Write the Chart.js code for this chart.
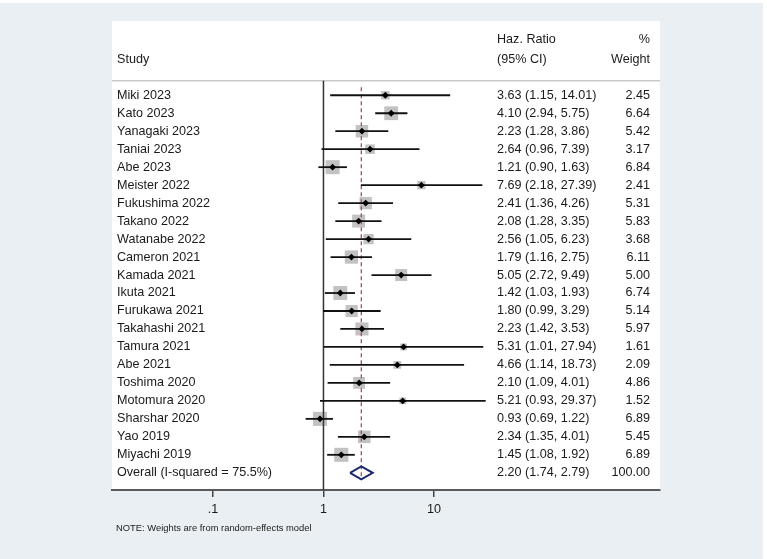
<!DOCTYPE html>
<html lang="en">
  <head>
    <meta charset="UTF-8" />
    <title>Forest plot</title>
    <style>
      body { margin: 0; background: #ffffff; }
      #wrap { width: 767px; height: 559px; }
    </style>
  </head>
  <body>
    <div id="wrap">
      <canvas id="myChart" width="767" height="559"></canvas>
    </div>
    <script src="https://cdn.jsdelivr.net/npm/chart.js"></script>
    <script>
        const studies = ["Miki 2023", "Kato 2023", "Yanagaki 2023", "Taniai 2023", "Abe 2023", "Meister 2022",
            "Fukushima 2022", "Takano 2022", "Watanabe 2022", "Cameron 2021", "Kamada 2021", "Ikuta 2021",
            "Furukawa 2021", "Takahashi 2021", "Tamura 2021", "Abe 2021", "Toshima 2020", "Motomura 2020",
            "Sharshar 2020", "Yao 2019", "Miyachi 2019"];
        const hr = [3.63, 4.10, 2.23, 2.64, 1.21, 7.69, 2.41, 2.08, 2.56, 1.79, 5.05, 1.42, 1.80, 2.23, 5.31, 4.66, 2.10, 5.21, 0.93, 2.34, 1.45];
        const lower = [1.15, 2.94, 1.28, 0.96, 0.90, 2.18, 1.36, 1.28, 1.05, 1.16, 2.72, 1.03, 0.99, 1.42, 1.01, 1.14, 1.09, 0.93, 0.69, 1.35, 1.08];
        const upper = [14.01, 5.75, 3.86, 7.39, 1.63, 27.39, 4.26, 3.35, 6.23, 2.75, 9.49, 1.93, 3.29, 3.53, 27.94, 18.73, 4.01, 29.37, 1.22, 4.01, 1.92];
        const weights = [2.45, 6.64, 5.42, 3.17, 6.84, 2.41, 5.31, 5.83, 3.68, 6.11, 5.00, 6.74, 5.14, 5.97, 1.61, 2.09, 4.86, 1.52, 6.89, 5.45, 6.89];

        const overallLabel = "Overall (I-squared = 75.5%)";
        const overall = { hr: 2.20, lower: 1.74, upper: 2.79, weight: 100.00 };

        const tickValues = [0.1, 1, 10];
        const tickLabels = [".1", "1", "10"];

        const FONT = '"Liberation Sans", Arial, Helvetica, sans-serif';
        const overallRow = studies.length;

        // squares: area proportional to weight
        const squareRadius = weights.map(w => 14 * Math.sqrt(w / 6.84) / Math.SQRT2);

        const datasets = [];

        datasets.push({
            label: "weights",
            data: hr.map((v, i) => ({ x: v, y: i })),
            pointStyle: "rect",
            pointRadius: squareRadius,
            backgroundColor: "#c2c2c2",
            borderWidth: 0,
            order: 6
        });

        datasets.push({
            label: "null line",
            data: [{ x: 1, y: -0.8 }, { x: 1, y: 21.95 }],
            showLine: true,
            borderColor: "#333333",
            borderWidth: 1.5,
            pointRadius: 0,
            order: 5
        });

        datasets.push({
            label: "overall line",
            data: [{ x: overall.hr, y: -0.45 }, { x: overall.hr, y: overallRow + 0.4 }],
            showLine: true,
            borderColor: "#a3525e",
            borderWidth: 1.3,
            borderDash: [4, 3],
            pointRadius: 0,
            order: 4
        });

        studies.forEach((s, i) => {
            datasets.push({
                label: s,
                data: [{ x: lower[i], y: i }, { x: upper[i], y: i }],
                showLine: true,
                borderColor: "#111111",
                borderWidth: 1.8,
                pointRadius: 0,
                order: 3
            });
        });

        datasets.push({
            label: "estimates",
            data: hr.map((v, i) => ({ x: v, y: i })),
            pointStyle: "rectRot",
            pointRadius: 3.4,
            backgroundColor: "#000000",
            borderWidth: 0,
            order: 2
        });

        datasets.push({
            label: "overall",
            data: [
                { x: overall.lower, y: overallRow },
                { x: overall.hr, y: overallRow - 0.36 },
                { x: overall.upper, y: overallRow },
                { x: overall.hr, y: overallRow + 0.36 },
                { x: overall.lower, y: overallRow }
            ],
            showLine: true,
            borderColor: "#1b2a6e",
            borderWidth: 2,
            pointRadius: 0,
            order: 1
        });

        const panel = {
            id: "panel",
            beforeDraw(chart) {
                const { ctx, chartArea: { left, top, right, bottom } } = chart;
                ctx.save();
                ctx.fillStyle = "#ffffff";
                ctx.fillRect(0, 0, chart.width, chart.height);
                ctx.fillStyle = "#e9eff2";
                ctx.fillRect(0, 3, 763, chart.height - 3);
                ctx.fillStyle = "#ffffff";
                ctx.fillRect(left, top, right - left, bottom - top);
                // header rule
                const yRule = chart.scales.y.getPixelForValue(-0.8);
                ctx.strokeStyle = "#c9c9c9";
                ctx.lineWidth = 1.5;
                ctx.beginPath();
                ctx.moveTo(left, yRule);
                ctx.lineTo(right, yRule);
                ctx.stroke();
                ctx.restore();
            }
        };

        const fmt = v => v.toFixed(2);

        const texts = {
            id: "texts",
            afterDraw(chart) {
                const { ctx, chartArea: { left, right } } = chart;
                const y = chart.scales.y;
                const xStudy = left + 5, xCi = left + 385, xW = right - 10;
                ctx.save();
                ctx.fillStyle = "#1a1a1a";
                ctx.font = "12.6px " + FONT;
                ctx.textBaseline = "middle";

                ctx.textAlign = "left";
                ctx.fillText("Study", xStudy, y.getPixelForValue(-2));
                ctx.fillText("Haz. Ratio", xCi, y.getPixelForValue(-3.1));
                ctx.fillText("(95% CI)", xCi, y.getPixelForValue(-2));
                ctx.textAlign = "right";
                ctx.fillText("%", xW, y.getPixelForValue(-3.1));
                ctx.fillText("Weight", xW, y.getPixelForValue(-2));

                studies.forEach((s, i) => {
                    const py = y.getPixelForValue(i);
                    ctx.textAlign = "left";
                    ctx.fillText(s, xStudy, py);
                    ctx.fillText(fmt(hr[i]) + " (" + fmt(lower[i]) + ", " + fmt(upper[i]) + ")", xCi, py);
                    ctx.textAlign = "right";
                    ctx.fillText(fmt(weights[i]), xW, py);
                });

                const po = y.getPixelForValue(overallRow);
                ctx.textAlign = "left";
                ctx.fillText(overallLabel, xStudy, po);
                ctx.fillText(fmt(overall.hr) + " (" + fmt(overall.lower) + ", " + fmt(overall.upper) + ")", xCi, po);
                ctx.textAlign = "right";
                ctx.fillText(fmt(overall.weight), xW, po);

                ctx.textAlign = "left";
                ctx.font = "9.4px " + FONT;
                ctx.fillText("NOTE: Weights are from random-effects model", left + 4, 528);
                ctx.restore();
            }
        };

        const config = {
            type: "scatter",
            data: { datasets: datasets },
            plugins: [panel, texts],
            options: {
                responsive: false,
                animation: false,
                events: [],
                layout: {
                    padding: { left: 112, right: 107, top: 21, bottom: 37 }
                },
                plugins: {
                    legend: { display: false },
                    tooltip: { enabled: false }
                },
                scales: {
                    x: {
                        type: "logarithmic",
                        min: 0.0122,
                        max: 1110,
                        afterBuildTicks(scale) {
                            scale.ticks = tickValues.map(v => ({ value: v }));
                        },
                        grid: {
                            drawOnChartArea: false,
                            drawTicks: true,
                            tickLength: 7,
                            color: "#444444",
                            lineWidth: 1.5
                        },
                        border: { display: true, color: "#5a5a5a", width: 2 },
                        ticks: {
                            autoSkip: false,
                            maxRotation: 0,
                            padding: 5,
                            color: "#1a1a1a",
                            font: { family: FONT, size: 12.6 },
                            callback: function (value) {
                                const k = tickValues.indexOf(value);
                                return k >= 0 ? tickLabels[k] : "";
                            }
                        }
                    },
                    y: {
                        display: false,
                        reverse: true,
                        min: -4.13,
                        max: 21.95
                    }
                }
            }
        };

        const myChart = new Chart(document.getElementById("myChart"), config);
    </script>
  </body>
</html>
